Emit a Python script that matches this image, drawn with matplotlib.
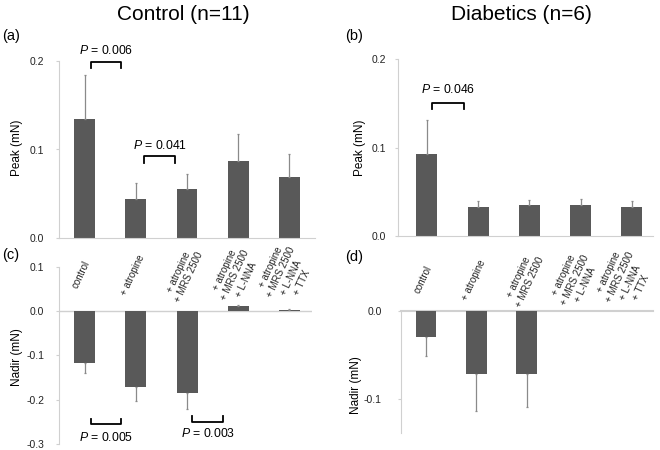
import matplotlib
matplotlib.use("Agg")
import matplotlib.pyplot as plt
import numpy as np

plt.rcParams.update({
    "font.family": "Liberation Sans",
    "axes.unicode_minus": False,
    "mathtext.fontset": "custom",
    "mathtext.rm": "Liberation Sans",
    "mathtext.it": "Liberation Sans:italic",
})

W, H = 660, 450

# ---- data -------------------------------------------------------------
categories = ["control", "+ atropine", "+ atropine\n+ MRS 2500",
              "+ atropine\n+ MRS 2500\n+ L-NNA",
              "+ atropine\n+ MRS 2500\n+ L-NNA\n+ TTX"]

ctrl_peak = [0.135, 0.0443, 0.0552, 0.0868, 0.0688]
ctrl_peak_err = [0.0495, 0.0181, 0.0169, 0.0302, 0.0256]
diab_peak = [0.0932, 0.0328, 0.0351, 0.0351, 0.0328]
diab_peak_err = [0.038, 0.0065, 0.0053, 0.0071, 0.0068]
ctrl_nadir = [-0.117, -0.172, -0.185, 0.0106, 0.003]
ctrl_nadir_err = [0.023, 0.031, 0.035, 0.003, 0.001]
diab_nadir = [-0.030, -0.0717, -0.0717, np.nan, np.nan]
diab_nadir_err = [0.0208, 0.0413, 0.0373, np.nan, np.nan]

p_ctrl_peak = ["0.006", "0.041"]
p_diab_peak = ["0.046"]
p_ctrl_nadir = ["0.005", "0.003"]

BAR = "#595959"
AXC = "#d0d0d0"
ERR = "#8a8a8a"

fig = plt.figure(figsize=(W / 100, H / 100), dpi=100)


def make_ax(x0, x1, ytop, ybot):
    return fig.add_axes([x0 / W, 1 - ybot / H, (x1 - x0) / W, (ybot - ytop) / H])


def style(ax, pad):
    for s in ["top", "right"]:
        ax.spines[s].set_visible(False)
    ax.spines["left"].set_color(AXC)
    ax.spines["bottom"].set_color(AXC)
    ax.tick_params(axis="y", length=2.5, color=AXC, labelsize=7.5, pad=pad, labelcolor="#222222")
    ax.tick_params(axis="x", length=0, labelbottom=False)


def draw_bars(ax, vals, errs):
    x = np.arange(len(vals))
    v = np.array(vals, dtype=float)
    e = np.array(errs, dtype=float)
    ax.bar(x, v, 0.41, color=BAR, zorder=2)
    lo = np.where(v < 0, e, 0)
    hi = np.where(v > 0, e, 0)
    ax.errorbar(x, v, yerr=[lo, hi], fmt="none", ecolor=ERR, elinewidth=0.9,
                capsize=1.0, capthick=0.9, zorder=3)


def bracket(ax, x0, x1, y, tip, p, ty):
    ax.plot([x0, x0, x1, x1], [tip, y, y, tip], color="black", lw=1.3, clip_on=False)
    ax.text((x0 + x1) / 2, ty, f"$P$ = {p}", ha="center", va="center", fontsize=8.8)


def cat_labels(ax, ypix, dx=-0.06):
    for i, lab in enumerate(categories):
        ax.annotate(lab, xy=(i + dx, H - ypix), xycoords=("data", "figure pixels"),
                    rotation=65, rotation_mode="anchor", ha="center", va="center",
                    multialignment="center", fontsize=7, linespacing=1.2,
                    color="#222222", annotation_clip=False)


# (a) control peak
ax_a = make_ax(59, 315, 61, 238)
draw_bars(ax_a, ctrl_peak, ctrl_peak_err)
ax_a.set_xlim(-0.5, 4.5)
ax_a.set_ylim(0, 0.2)
ax_a.set_yticks([0.0, 0.1, 0.2])
ax_a.set_yticklabels(["0.0", "0.1", "0.2"])
style(ax_a, 8.0)
bracket(ax_a, 0.12, 0.71, 0.1984, 0.1917, p_ctrl_peak[0], 0.2119)
bracket(ax_a, 1.16, 1.77, 0.0924, 0.0846, p_ctrl_peak[1], 0.1049)

# (b) diabetics peak
ax_b = make_ax(398, 653, 59.3, 236)
draw_bars(ax_b, diab_peak, diab_peak_err)
ax_b.set_xlim(-0.56, 4.41)
ax_b.set_ylim(0, 0.2)
ax_b.set_yticks([0.0, 0.1, 0.2])
ax_b.set_yticklabels(["0.0", "0.1", "0.2"])
style(ax_b, 6.3)
bracket(ax_b, 0.11, 0.73, 0.151, 0.1438, p_diab_peak[0], 0.1653)

# (c) control nadir
ax_c = make_ax(59, 312, 266.7, 444)
draw_bars(ax_c, ctrl_nadir, ctrl_nadir_err)
ax_c.set_xlim(-0.5, 4.44)
ax_c.set_ylim(-0.3, 0.1)
ax_c.set_yticks([-0.3, -0.2, -0.1, 0.0, 0.1])
ax_c.set_yticklabels(["-0.3", "-0.2", "-0.1", "0.0", "0.1"])
style(ax_c, 8.0)
ax_c.spines["bottom"].set_visible(False)
ax_c.axhline(0, color=AXC, lw=1, zorder=1)
bracket(ax_c, 0.12, 0.71, -0.2558, -0.2429, p_ctrl_nadir[0], -0.2844)
bracket(ax_c, 2.10, 2.71, -0.2512, -0.2377, p_ctrl_nadir[1], -0.2767)
cat_labels(ax_c, 275)

# (d) diabetics nadir
ax_d = make_ax(400.7, 653, 310.7, 432.7)
draw_bars(ax_d, diab_nadir, diab_nadir_err)
ax_d.set_xlim(-0.5, 4.51)
ax_d.set_ylim(-0.1375, 0.0)
ax_d.set_yticks([-0.1, 0.0])
ax_d.set_yticklabels(["-0.1", "0.0"])
style(ax_d, 11.2)
ax_d.spines["bottom"].set_visible(False)
ax_d.axhline(0, color=AXC, lw=1.5, zorder=1, clip_on=False)
cat_labels(ax_d, 280, dx=-0.05)

# titles, panel letters, axis titles
fig.text(183.7 / W, 1 - 14 / H, "Control (n=11)", ha="center", va="center", fontsize=15)
fig.text(521 / W, 1 - 14 / H, "Diabetics (n=6)", ha="center", va="center", fontsize=15)
for lab, x, y in [("(a)", 2, 36), ("(b)", 345, 36), ("(c)", 2, 255), ("(d)", 345, 257)]:
    fig.text(x / W, 1 - y / H, lab, ha="left", va="center", fontsize=10.5)
for lab, x, y in [("Peak (mN)", 17, 147.5), ("Peak (mN)", 360, 147.5),
                  ("Nadir (mN)", 16.7, 356.7), ("Nadir (mN)", 356, 385.5)]:
    fig.text(x / W, 1 - y / H, lab, ha="center", va="center", rotation=90, fontsize=8.5)

fig.savefig("out.png", dpi=100)
